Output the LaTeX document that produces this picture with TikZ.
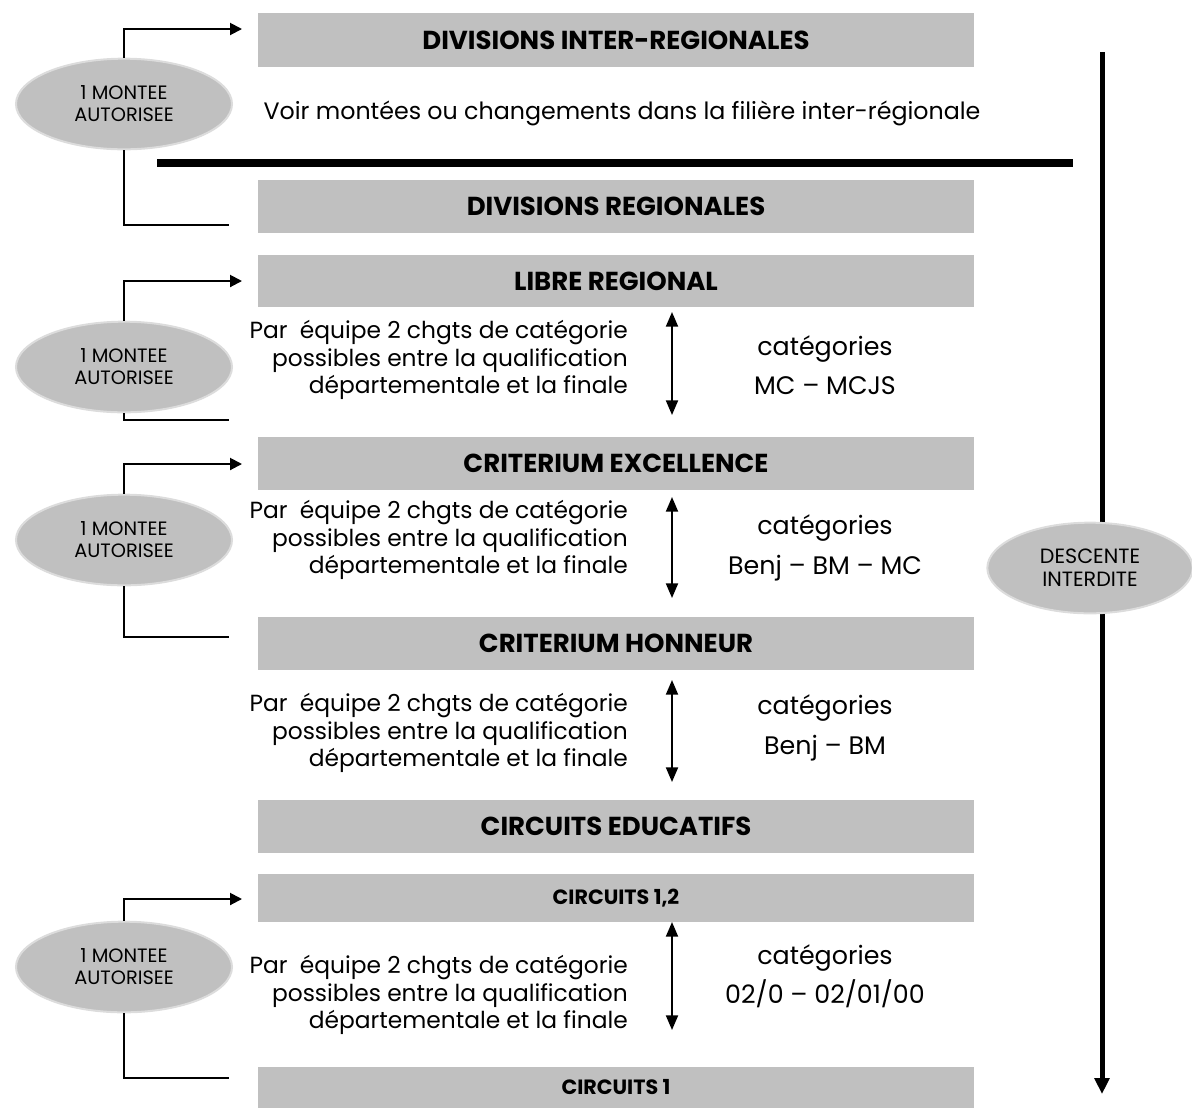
\documentclass[tikz,border=0pt]{standalone}
\usepackage{fontspec}
\setmainfont{Poppins}
\usepackage{tikz}
\usetikzlibrary{positioning,shapes.geometric,arrows.meta}

\definecolor{barcol}{HTML}{C0C0C0}
\definecolor{rimcol}{HTML}{DCDCDC}

\tikzset{
  bar/.style = {fill = barcol, shape = rectangle, minimum width = 537pt, minimum height = 40pt, inner sep = 0pt, font = \fontsize{19.5}{22}\selectfont\bfseries},
  smallbar/.style = {bar, font = \fontsize{15.5}{18}\selectfont\bfseries},
  oval/.style = {fill = barcol, draw = rimcol, line width = 1.5pt, shape = ellipse, minimum width = 162pt, minimum height = 68pt, inner sep = 0pt, align = center, font = \fontsize{14.5}{16.5}\selectfont},
  note/.style = {align = right, anchor = east, inner sep = 0pt, font = \fontsize{17.5}{20.5}\selectfont},
  cat/.style = {align = center, inner sep = 0pt, font = \fontsize{19}{29.5}\selectfont},
  up/.style = {line width = 1.5pt, -{Triangle[length = 9pt, width = 9pt]}},
  link/.style = {line width = 1.5pt},
  both/.style = {line width = 1.5pt, {Triangle[length = 11pt, width = 9pt]}-{Triangle[length = 11pt, width = 9pt]}}
}

\begin{document}
\begin{tikzpicture}[x = 0.75pt, y = -0.75pt]
\useasboundingbox (0,0) rectangle (1192,1108);

% levels
\node[bar] (divir) at (616,40) {DIVISIONS INTER-REGIONALES};
\node[inner sep = 0pt, font = \fontsize{17.8}{20}\selectfont] (voir) at (622,113) {Voir montées ou changements dans la filière inter-régionale};
\node[bar, minimum height = 40pt] (divr) at (616,206.5) {DIVISIONS REGIONALES};
\node[bar, minimum height = 39pt] (libre) at (616,281) {LIBRE REGIONAL};
\node[bar] (excel) at (616,463.5) {CRITERIUM EXCELLENCE};
\node[bar] (honn) at (616,643.5) {CRITERIUM HONNEUR};
\node[bar] (educ) at (616,826.5) {CIRCUITS EDUCATIFS};
\node[smallbar, minimum height = 36pt] (circ12) at (616,898) {CIRCUITS 1,2};
\node[smallbar, minimum height = 31pt] (circ1) at (616,1087.5) {CIRCUITS 1};

% separation
\coordinate (sepa) at (157,163);
\coordinate (sepb) at (1073,163);
\draw[line width = 5.5pt] (sepa) -- (sepb);

% changes between levels
\foreach \name/\y/\ya/\yb/\yc/\first in {
  a/360/312/415/365/{MC – MCJS},
  b/540/497/598/548/{Benj – BM – MC},
  c/733/680/782/728/{Benj – BM},
  d/995/922/1030/976/{02/0 – 02/01/00}}
{
  \node[note] (txt\name) at (628,\y) {Par~ équipe 2 chgts de catégorie\\possibles entre la qualification\\départementale et la finale};
  \node[cat] (cat\name) at (825,\yc) {catégories\\\first};
  \coordinate (hi\name) at (672,\ya);
  \coordinate (lo\name) at (672,\yb);
  \draw[both] (hi\name) -- (lo\name);
}

% allowed promotions
\node[oval] (up1) at (124,104) {1 MONTEE\\AUTORISEE};
\node[oval] (up2) at (124,367) {1 MONTEE\\AUTORISEE};
\node[oval] (up3) at (124,540) {1 MONTEE\\AUTORISEE};
\node[oval] (up4) at (124,967) {1 MONTEE\\AUTORISEE};

\coordinate (to1) at (242,29);
\coordinate (from1) at (229,225);
\coordinate (to2) at (242,281);
\coordinate (from2) at (229,420);
\coordinate (to3) at (242,464);
\coordinate (from3) at (229,637);
\coordinate (to4) at (242,899);
\coordinate (from4) at (229,1078);

\foreach \i in {1,...,4}
{
  \draw[up] (up\i.north) |- (to\i);
  \draw[link] (up\i.south) |- (from\i);
}

% no way down
\coordinate (downa) at (1102,52);
\coordinate (downb) at (1102,1094);
\draw[line width = 3.75pt, -{Triangle[length = 12pt, width = 11pt]}] (downa) -- (downb);
\node[oval, minimum width = 154pt, font = \fontsize{15.5}{17}\selectfont] (down) at (1090,568) {DESCENTE\\INTERDITE};
\end{tikzpicture}
\end{document}
